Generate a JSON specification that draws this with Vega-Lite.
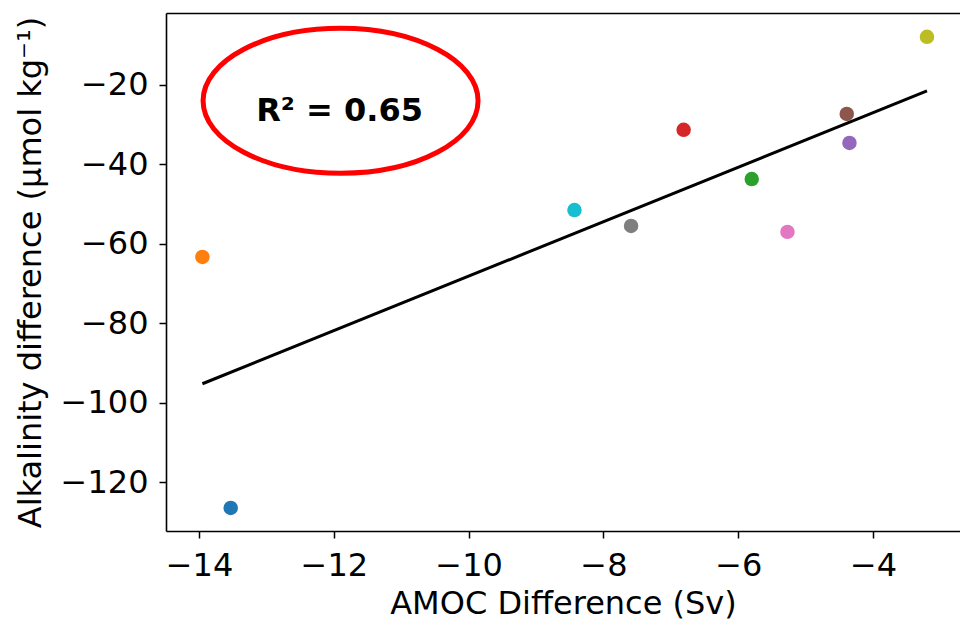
{
  "$schema": "https://vega.github.io/schema/vega-lite/v6.json",
  "width": 794,
  "height": 518,
  "autosize": {"type": "none"},
  "padding": {"left": 166, "top": 13, "right": 0, "bottom": 89},
  "background": "white",
  "config": {
    "view": {"stroke": null},
    "axis": {
      "labelFont": "DejaVu Sans",
      "labelFontSize": 32,
      "labelColor": "black",
      "titleFont": "DejaVu Sans",
      "titleFontSize": 32,
      "titleFontWeight": "normal",
      "titleColor": "black",
      "tickColor": "black",
      "tickSize": 7,
      "tickWidth": 1.5,
      "domainColor": "black",
      "domainWidth": 1.6,
      "grid": false
    },
    "axisX": {"labelPadding": 12},
    "axisY": {"labelPadding": 11}
  },
  "datasets": {
    "points": [
      {"run": "A", "amoc": -13.53, "alk": -126.5},
      {"run": "B", "amoc": -13.95, "alk": -63.3},
      {"run": "C", "amoc": -5.80, "alk": -43.7},
      {"run": "D", "amoc": -6.81, "alk": -31.3},
      {"run": "E", "amoc": -4.35, "alk": -34.6},
      {"run": "F", "amoc": -4.39, "alk": -27.3},
      {"run": "G", "amoc": -5.27, "alk": -57.0},
      {"run": "H", "amoc": -7.59, "alk": -55.5},
      {"run": "I", "amoc": -3.20, "alk": -7.9},
      {"run": "J", "amoc": -8.43, "alk": -51.5}
    ],
    "note": [{"amoc": -11.9, "alk": -24.0, "label": "R² = 0.65"}]
  },
  "layer": [
    {
      "data": {"name": "points"},
      "mark": {"type": "point", "filled": true, "opacity": 1, "size": 210},
      "encoding": {
        "x": {"field": "amoc", "type": "quantitative", "scale": {"domain": [-14.49, -2.71], "nice": false, "zero": false},
              "axis": {"values": [-14, -12, -10, -8, -6, -4], "title": "AMOC Difference (Sv)", "titlePadding": 7}},
        "y": {"field": "alk", "type": "quantitative", "scale": {"domain": [-132.3, -1.9], "nice": false, "zero": false},
              "axis": {"values": [-120, -100, -80, -60, -40, -20], "title": "Alkalinity difference (μmol kg⁻¹)", "titlePadding": 13}},
        "color": {"field": "run", "type": "nominal", "scale": {"scheme": "category10"}, "legend": null}
      }
    },
    {
      "data": {"name": "points"},
      "transform": [{"regression": "alk", "on": "amoc"}],
      "mark": {"type": "line", "color": "black", "strokeWidth": 3},
      "encoding": {
        "x": {"field": "amoc", "type": "quantitative", "axis": null},
        "y": {"field": "alk", "type": "quantitative", "axis": {"values": [-120, -100, -80, -60, -40, -20], "title": "Alkalinity difference (μmol kg⁻¹)", "titlePadding": 13}}
      }
    },
    {
      "data": {"name": "note"},
      "mark": {"type": "point", "shape": "M-1,0 A1,0.527 0 1,0 1,0 A1,0.527 0 1,0 -1,0 Z", "size": 75625, "filled": false, "stroke": "#ff0000", "strokeWidth": 5, "opacity": 1},
      "encoding": {
        "x": {"field": "amoc", "type": "quantitative", "axis": null},
        "y": {"field": "alk", "type": "quantitative", "axis": {"values": [-120, -100, -80, -60, -40, -20], "title": "Alkalinity difference (μmol kg⁻¹)", "titlePadding": 13}}
      }
    },
    {
      "data": {"name": "note"},
      "mark": {"type": "text", "font": "DejaVu Sans", "fontWeight": "bold", "fontSize": 32, "color": "black", "dy": 10, "dx": -1},
      "encoding": {
        "x": {"field": "amoc", "type": "quantitative", "axis": null},
        "y": {"field": "alk", "type": "quantitative", "axis": {"values": [-120, -100, -80, -60, -40, -20], "title": "Alkalinity difference (μmol kg⁻¹)", "titlePadding": 13}},
        "text": {"field": "label"}
      }
    },
    {
      "data": {"name": "note"},
      "mark": {"type": "point", "opacity": 0},
      "encoding": {
        "x": {"field": "amoc", "type": "quantitative", "axis": {"orient": "top", "labels": false, "ticks": false, "title": null, "domain": true}},
        "y": {"field": "alk", "type": "quantitative", "axis": {"values": [-120, -100, -80, -60, -40, -20], "title": "Alkalinity difference (μmol kg⁻¹)", "titlePadding": 13}}
      }
    }
  ],
  "resolve": {"axis": {"x": "independent"}}
}
